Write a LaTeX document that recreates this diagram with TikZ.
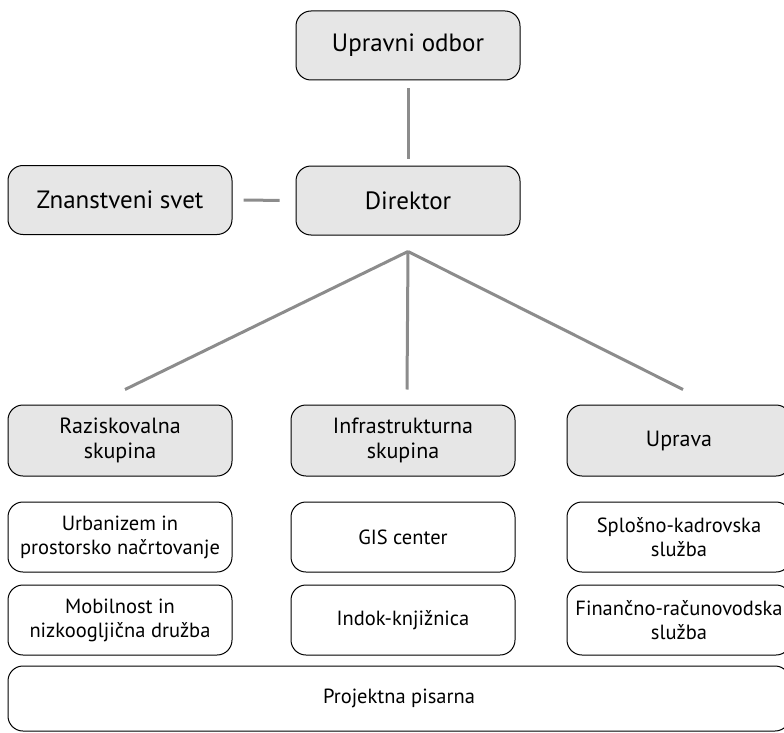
\documentclass[tikz,border=0pt]{standalone}
\usepackage{fontspec}
\setmainfont{PT Sans}
\usetikzlibrary{positioning, calc}

\begin{document}
\begin{tikzpicture}[x=1pt, y=-1pt, thick,
  main node/.style={rectangle, rounded corners=15pt, draw, line width=1pt, fill=boxgray,
    minimum width=224pt, minimum height=69pt, align=center, font=\fontsize{25}{28}\selectfont},
  group node/.style={main node, minimum height=71pt, font=\fontsize{22}{25}\selectfont},
  sub node/.style={main node, fill=white, minimum height=70pt, font=\fontsize{20.5}{24}\selectfont},
  link/.style={draw=linegray, line width=3pt}]
  \definecolor{boxgray}{RGB}{230,230,230}
  \definecolor{linegray}{RGB}{140,140,140}
  \useasboundingbox (0,0) rectangle (784,733);
  \node[main node] (odbor) at (408,45.5) {Upravni odbor};
  \node[main node, below=85pt of odbor] (direktor) {Direktor};
  \node[main node] (svet) at (120,200) {Znanstveni svet};
  \node[group node] (raz) at (120,440.5) {Raziskovalna\\skupina};
  \node[group node] (infra) at (403,440.5) {Infrastrukturna\\skupina};
  \node[group node] (uprava) at (679,440.5) {Uprava};
  \node[sub node, below=25pt of raz] (urb) {Urbanizem in\\prostorsko načrtovanje};
  \node[sub node, below=25pt of infra] (gis) {GIS center};
  \node[sub node, below=25pt of uprava] (splosno) {Splošno-kadrovska\\služba};
  \node[sub node, below=12pt of urb] (mob) {Mobilnost in\\nizkoogljična družba};
  \node[sub node, below=12pt of gis] (indok) {Indok-knjižnica};
  \node[sub node, below=12pt of splosno] (fin) {Finančno-računovodska\\služba};
  \node[sub node, minimum width=782pt, minimum height=65pt] (pisarna) at (399,698.5) {Projektna pisarna};
  \coordinate (apex) at ($(direktor.south)+(0,16)$);
  \draw[link, shorten <=8pt, shorten >=7pt] (odbor) -- (direktor);
  \draw[link, shorten <=11pt, shorten >=16pt] (svet) -- (direktor);
  \draw[link] (apex) -- ($(raz.north)+(5,-15)$);
  \draw[link] (apex) -- ($(infra.north)+(4,-15)$);
  \draw[link] (apex) -- ($(uprava.north)+(4,-15)$);
\end{tikzpicture}
\end{document}
